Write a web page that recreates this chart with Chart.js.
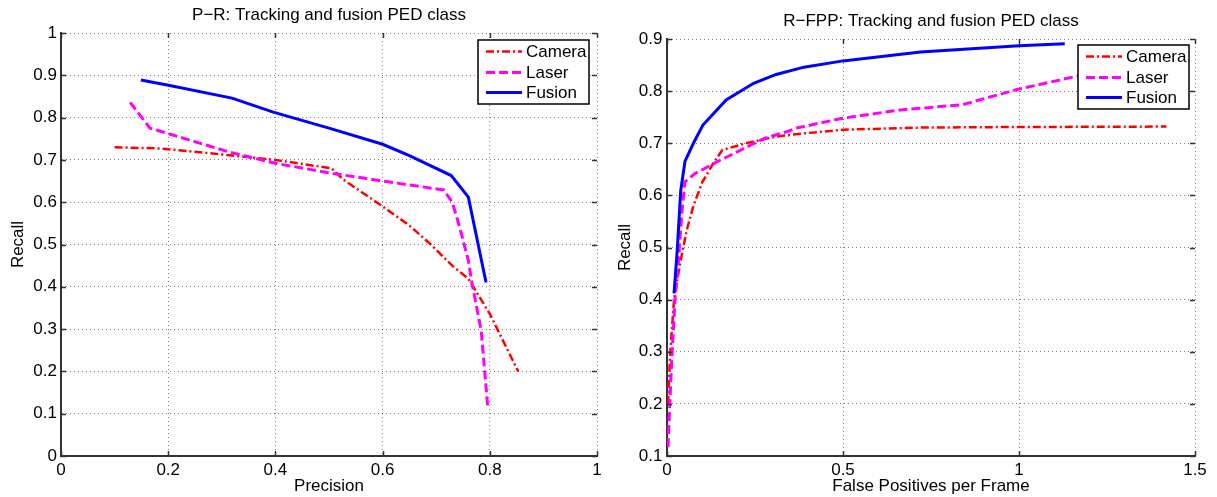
<!DOCTYPE html>
<html>
<head>
<meta charset="utf-8">
<script src="https://cdn.jsdelivr.net/npm/chart.js@4/dist/chart.umd.min.js"></script>
<style>
  html, body { margin: 0; padding: 0; background: #fff; }
  #wrap { position: relative; width: 1217px; height: 497px; background: #fff; }
  canvas { position: absolute; top: 0; }
</style>
</head>
<body>
<div id="wrap">
  <canvas id="prChart" width="610" height="497" style="left:0;width:610px;height:497px"></canvas>
  <canvas id="rfppChart" width="607" height="497" style="left:610px;width:607px;height:497px"></canvas>
</div>
<script>
// ---------------- DATA ----------------
// Left plot: Precision (x) vs Recall (y)
const prCameraX = [0.100, 0.185, 0.315, 0.400, 0.505, 0.525, 0.600, 0.650, 0.690, 0.730, 0.760, 0.800, 0.853];
const prCameraY = [0.730, 0.727, 0.711, 0.700, 0.680, 0.655, 0.590, 0.545, 0.500, 0.450, 0.419, 0.336, 0.200];
const prLaserX  = [0.129, 0.166, 0.198, 0.315, 0.400, 0.507, 0.600, 0.714, 0.730, 0.744, 0.760, 0.767, 0.784, 0.796];
const prLaserY  = [0.836, 0.775, 0.763, 0.718, 0.692, 0.668, 0.650, 0.629, 0.600, 0.540, 0.462, 0.407, 0.296, 0.118];
const prFusionX = [0.149, 0.198, 0.319, 0.396, 0.500, 0.600, 0.650, 0.728, 0.760, 0.793];
const prFusionY = [0.889, 0.877, 0.846, 0.813, 0.775, 0.737, 0.710, 0.663, 0.612, 0.410];

// Right plot: False Positives per Frame (x) vs Recall (y)
const fpCameraX = [0.003, 0.009, 0.020, 0.037, 0.056, 0.075, 0.100, 0.130, 0.157, 0.224, 0.312, 0.389, 0.500, 0.720, 0.940, 1.419];
const fpCameraY = [0.200, 0.297, 0.400, 0.469, 0.533, 0.580, 0.625, 0.660, 0.687, 0.700, 0.713, 0.719, 0.726, 0.730, 0.731, 0.732];
const fpLaserX  = [0.003, 0.008, 0.013, 0.023, 0.032, 0.042, 0.051, 0.080, 0.141, 0.198, 0.236, 0.279, 0.340, 0.367, 0.499, 0.664, 0.840, 0.994, 1.160, 1.300, 1.420];
const fpLaserY  = [0.117, 0.200, 0.277, 0.404, 0.469, 0.565, 0.626, 0.642, 0.664, 0.683, 0.696, 0.710, 0.722, 0.729, 0.748, 0.764, 0.774, 0.803, 0.828, 0.840, 0.850];
const fpFusionX = [0.020, 0.029, 0.039, 0.051, 0.075, 0.102, 0.168, 0.246, 0.310, 0.389, 0.500, 0.720, 1.000, 1.130];
const fpFusionY = [0.412, 0.494, 0.609, 0.665, 0.700, 0.735, 0.783, 0.815, 0.832, 0.846, 0.858, 0.875, 0.887, 0.891];

// Tick values
const prXTicks = [0, 0.2, 0.4, 0.6, 0.8, 1];
const prYTicks = [0, 0.1, 0.2, 0.3, 0.4, 0.5, 0.6, 0.7, 0.8, 0.9, 1];
const fpXTicks = [0, 0.5, 1, 1.5];
const fpYTicks = [0.1, 0.2, 0.3, 0.4, 0.5, 0.6, 0.7, 0.8, 0.9];

const seriesNames = ['Camera', 'Laser', 'Fusion'];
const titles = ['P\u2212R: Tracking and fusion PED class', 'R\u2212FPP: Tracking and fusion PED class'];
const xTitles = ['Precision', 'False Positives per Frame'];
const yTitle = 'Recall';

// ---------------- STYLE ----------------
const FONT = "'Liberation Sans', Arial, Helvetica, sans-serif";
const FS = 17;
Chart.defaults.font.family = FONT;
Chart.defaults.font.size = FS;
Chart.defaults.color = '#000';

const seriesStyle = [
  { color: '#ff0000', width: 2.5, dash: [8, 3, 2, 3] },
  { color: '#ff00ff', width: 3,   dash: [9, 4] },
  { color: '#0000ff', width: 3,   dash: [] }
];
const GRID = 'rgba(0,0,0,0.5)';
const AXIS = '#333';

function pts(xs, ys) { return xs.map((x, i) => ({ x: x, y: ys[i] })); }

function makeDatasets(list) {
  return list.map((d, i) => ({
    label: seriesNames[i],
    data: pts(d[0], d[1]),
    showLine: true,
    borderColor: seriesStyle[i].color,
    backgroundColor: seriesStyle[i].color,
    borderWidth: seriesStyle[i].width,
    borderDash: seriesStyle[i].dash,
    pointRadius: 0,
    pointHoverRadius: 0,
    tension: 0,
    fill: false,
    order: 3 - i
  }));
}

// small inward tick marks (MATLAB style) on left and bottom axes
const inwardTicks = {
  id: 'inwardTicks',
  afterDraw(chart) {
    const ctx = chart.ctx, ca = chart.chartArea;
    const xs = chart.scales.x, ys = chart.scales.y;
    ctx.save();
    ctx.strokeStyle = AXIS;
    ctx.lineWidth = 1.5;
    ctx.beginPath();
    xs.ticks.forEach(t => {
      const p = Math.round(xs.getPixelForValue(t.value)) + 0.5;
      ctx.moveTo(p, ca.bottom); ctx.lineTo(p, ca.bottom - 5);
      ctx.moveTo(p, ca.top); ctx.lineTo(p, ca.top + 5);
    });
    ys.ticks.forEach(t => {
      const p = Math.round(ys.getPixelForValue(t.value)) + 0.5;
      ctx.moveTo(ca.left, p); ctx.lineTo(ca.left + 5, p);
      ctx.moveTo(ca.right, p); ctx.lineTo(ca.right - 5, p);
    });
    ctx.stroke();
    ctx.restore();
  }
};

// MATLAB-style legend box inside the plot (top-right)
const boxLegend = {
  id: 'boxLegend',
  afterDatasetsDraw(chart, args, opts) {
    const ctx = chart.ctx;
    const ca = chart.chartArea;
    const w = 111, h = 64;
    const left = ca.right - opts.gapRight - w;
    const top = ca.top + opts.gapTop;
    ctx.save();
    ctx.fillStyle = '#fff';
    ctx.fillRect(left, top, w, h);
    ctx.strokeStyle = '#000';
    ctx.lineWidth = 1.5;
    ctx.strokeRect(left, top, w, h);
    const rows = [11.5, 32.5, 52.5];
    chart.data.datasets.forEach((ds, i) => {
      const y = top + rows[i];
      ctx.beginPath();
      ctx.setLineDash(seriesStyle[i].dash);
      ctx.strokeStyle = ds.borderColor;
      ctx.lineWidth = seriesStyle[i].width;
      ctx.moveTo(left + 8, y);
      ctx.lineTo(left + 44, y);
      ctx.stroke();
      ctx.setLineDash([]);
      ctx.fillStyle = '#000';
      ctx.font = FS + 'px ' + FONT;
      ctx.textBaseline = 'middle';
      ctx.textAlign = 'left';
      ctx.fillText(ds.label, left + 48, y + 0.5);
    });
    ctx.restore();
  }
};

function axis(minV, maxV, tickList, fitProp, fitVal, tickPad, titleText, titlePad) {
  return {
    type: 'linear',
    min: minV,
    max: maxV,
    afterBuildTicks: (scale) => { scale.ticks = tickList.map(v => ({ value: v })); },
    afterFit: (scale) => { scale[fitProp] = fitVal; },
    ticks: {
      autoSkip: false,
      maxRotation: 0,
      padding: tickPad,
      color: '#000',
      font: { size: FS },
      callback: (v) => String(+v.toFixed(2))
    },
    grid: {
      drawTicks: false,
      lineWidth: 1,
      color: (c) => (c.tick && c.tick.value === minV) ? 'rgba(0,0,0,0)' : GRID
    },
    border: { display: true, color: AXIS, width: 2, dash: [1, 3] },
    title: { display: true, text: titleText, color: '#000', font: { size: FS }, padding: titlePad }
  };
}

function build(id, datasets, xCfg, yCfg, titleText, titlePad, pad, legendGap) {
  return new Chart(document.getElementById(id), {
    type: 'scatter',
    data: { datasets: datasets },
    options: {
      responsive: false,
      animation: false,
      devicePixelRatio: 1,
      layout: { padding: pad },
      scales: { x: xCfg, y: yCfg },
      plugins: {
        legend: { display: false },
        tooltip: { enabled: false },
        title: {
          display: true, text: titleText, fullSize: false,
          color: '#000', font: { size: FS, weight: 'normal' }, padding: titlePad
        },
        boxLegend: legendGap
      }
    },
    plugins: [inwardTicks, boxLegend]
  });
}

// Left chart: chart area x 61..597, y 33..456
build('prChart',
  makeDatasets([[prCameraX, prCameraY], [prLaserX, prLaserY], [prFusionX, prFusionY]]),
  axis(0, 1, prXTicks, 'height', 41, 3.8, xTitles[0], { top: 0, bottom: 0.8 }),
  axis(0, 1, prYTicks, 'width', 61, 4, yTitle, { top: 8.3, bottom: 0 }),
  titles[0], { top: 4.8, bottom: 7.8 },
  { left: 0, right: 13, top: 0, bottom: 0 },
  { gapRight: 8, gapTop: 7 }
);

// Right chart: chart area x 57..585 (canvas coords), y 39..456
build('rfppChart',
  makeDatasets([[fpCameraX, fpCameraY], [fpLaserX, fpLaserY], [fpFusionX, fpFusionY]]),
  axis(0, 1.5, fpXTicks, 'height', 41, 3.8, xTitles[1], { top: 0, bottom: 0.5 }),
  axis(0.1, 0.9, fpYTicks, 'width', 57, 4.5, yTitle, { top: 5.3, bottom: 0 }),
  titles[1], { top: 10.8, bottom: 7.8 },
  { left: 0, right: 22, top: 0, bottom: 0 },
  { gapRight: 6, gapTop: 6 }
);
</script>
</body>
</html>
